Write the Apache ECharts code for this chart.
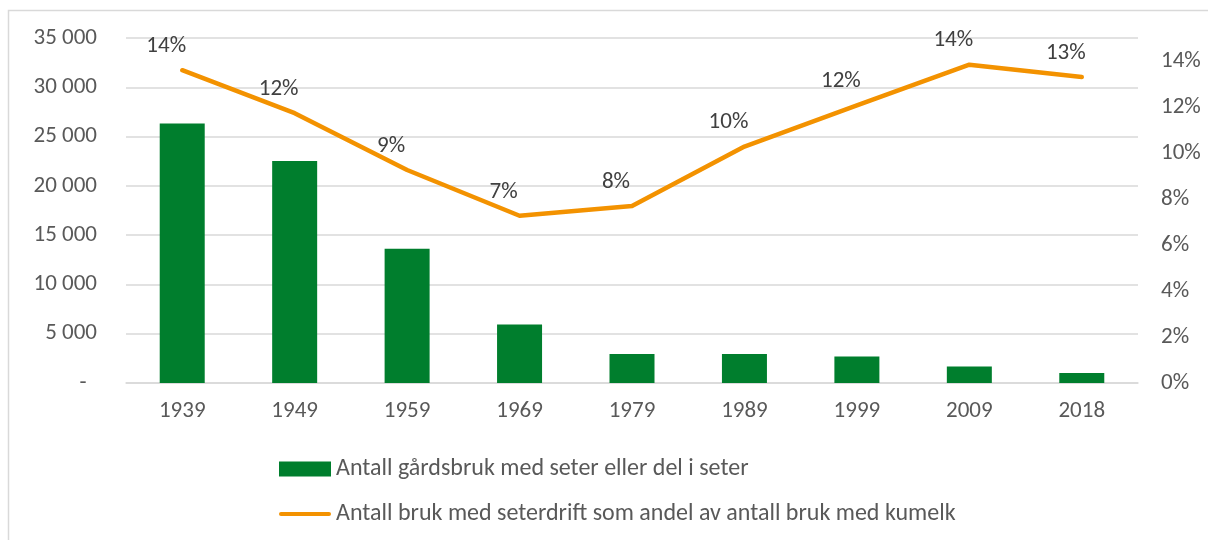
<!DOCTYPE html>
<html>
<head>
<meta charset="utf-8">
<script src="https://cdn.jsdelivr.net/npm/echarts@6/dist/echarts.min.js"></script>
<style>
    html, body { margin: 0; padding: 0; background: #fff; }
    #chart { width: 1208px; height: 540px; }
</style>
</head>
<body>
<div id="chart"></div>
<script>
// 数据
var years = ['1939', '1949', '1959', '1969', '1979', '1989', '1999', '2009', '2018'];
var farms = [26320, 22530, 13620, 5940, 2950, 2950, 2680, 1670, 1020];
var share = [0.136, 0.1173, 0.0926, 0.0727, 0.077, 0.1028, 0.1207, 0.1384, 0.133];
var barName = 'Antall gårdsbruk med seter eller del i seter';
var lineName = 'Antall bruk med seterdrift som andel av antall bruk med kumelk';

var font = 'Carlito, "Liberation Sans", Arial, sans-serif';
var textColor = '#595959';
var green = '#007E2D';
var orange = '#F39200';

// 千位分隔
function fmtThousand(v) {
    if (v === 0) {
        return '-  ';
    }
    return String(v).replace(/\B(?=(\d{3})+(?!\d))/g, ' ');
}

function fmtPct(v) {
    return Math.round(v * 100) + '%';
}

var chart = echarts.init(document.getElementById('chart'));
chart.setOption({
    animation: false,
    textStyle: { fontFamily: font },
    graphic: [
        {
            type: 'rect',
            shape: { x: 8.5, y: 10.5, width: 1220, height: 560 },
            style: { fill: 'none', stroke: '#d9d9d9', lineWidth: 1.5 },
            silent: true,
        },
    ],
    grid: {
        left: 126,
        right: 70,
        top: 38,
        bottom: 157,
    },
    legend: {
        orient: 'vertical',
        left: 274,
        top: 452,
        itemWidth: 52,
        itemHeight: 15,
        itemGap: 21,
        textStyle: { fontSize: 24, color: textColor, fontFamily: font },
        data: [
            { name: barName, icon: 'rect', itemStyle: { borderWidth: 0 } },
            { name: lineName, icon: 'path://M2,0 L50,0 A2,2 0 0 1 50,4 L2,4 A2,2 0 0 1 2,0 Z' },
        ],
    },
    xAxis: {
        type: 'category',
        data: years,
        axisLine: { lineStyle: { color: '#d9d9d9', width: 1.5 } },
        axisTick: { show: false },
        axisLabel: { fontSize: 23, color: textColor, margin: 17 },
    },
    yAxis: [
        {
            type: 'value',
            min: 0,
            max: 35000,
            interval: 5000,
            axisLine: { show: false },
            axisTick: { show: false },
            splitLine: { lineStyle: { color: '#d9d9d9', width: 1.5 } },
            axisLabel: {
                fontSize: 23,
                color: textColor,
                margin: 29,
                formatter: fmtThousand,
            },
        },
        {
            type: 'value',
            min: 0,
            max: 0.15,
            interval: 0.02,
            axisLine: { show: false },
            axisTick: { show: false },
            splitLine: { show: false },
            axisLabel: {
                fontSize: 23,
                color: textColor,
                margin: 23,
                showMaxLabel: false,
                formatter: fmtPct,
            },
        },
    ],
    series: [
        {
            name: barName,
            type: 'bar',
            data: farms,
            barWidth: 45,
            itemStyle: { color: green },
        },
        {
            name: lineName,
            type: 'line',
            yAxisIndex: 1,
            data: share,
            symbol: 'circle',
            symbolSize: 1,
            lineStyle: { color: orange, width: 4.5, cap: 'round', join: 'round' },
            itemStyle: { color: orange },
            label: {
                show: true,
                position: 'top',
                distance: 12,
                offset: [-16, 0],
                fontSize: 23,
                color: '#404040',
                formatter: function (p) {
                    return fmtPct(p.value);
                },
            },
        },
    ],
});
</script>
</body>
</html>
